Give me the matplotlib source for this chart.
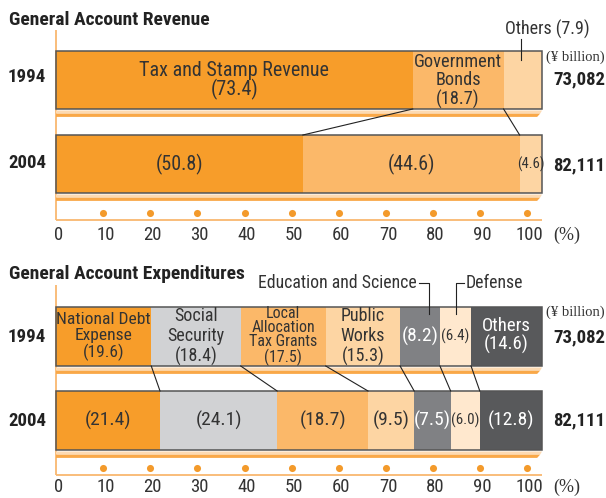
import matplotlib
matplotlib.use('Agg')
import matplotlib.pyplot as plt
from matplotlib.patches import Polygon, Rectangle
from matplotlib import font_manager
import numpy as np

# ---------------- data ----------------
years = ['1994', '2004']
rev_cats = ['Tax and Stamp Revenue', 'Government\nBonds', 'Others']
rev_1994 = [73.4, 18.7, 7.9]
rev_2004 = [50.8, 44.6, 4.6]
rev_totals = ['73,082', '82,111']

exp_cats = ['National Debt\nExpense', 'Social\nSecurity', 'Local\nAllocation\nTax Grants',
            'Public\nWorks', 'Education and Science', 'Defense', 'Others']
exp_1994 = [19.6, 18.4, 17.5, 15.3, 8.2, 6.4, 14.6]
exp_2004 = [21.4, 24.1, 18.7, 9.5, 7.5, 6.0, 12.8]
exp_totals = ['73,082', '82,111']

tick_values = [0, 10, 20, 30, 40, 50, 60, 70, 80, 90, 100]
unit_label = '(¥ billion)'

# ---------------- styles ----------------
rev_colors = ['#F79D2A', '#FBB869', '#FDD5A3']
exp_colors = ['#F79D2A', '#D1D2D4', '#FBB869', '#FDD5A3', '#808184', '#FFE8CE', '#58595B']
exp_text = ['#333333', '#333333', '#333333', '#333333', 'white', '#333333', 'white']
DARK = '#333333'
AXIS_C = '#F9B870'
DOT_C = '#F39A2B'
OUTLINE = '#555555'


def pick(names):
    avail = {f.name for f in font_manager.fontManager.ttflist}
    for n in names:
        if n in avail:
            return n
    return 'DejaVu Sans'


COND = pick(['Liberation Sans Narrow', 'DejaVu Sans Condensed', 'Roboto Condensed', 'Liberation Sans'])
SERIF = pick(['Liberation Serif', 'DejaVu Serif'])

W, H = 606, 498
fig = plt.figure(figsize=(W / 100, H / 100), dpi=100)
ax = fig.add_axes([0, 0, 1, 1])
PX0, PXW = 56.0, 4.86          # bar left pixel, pixels per percent
ax.set_xlim(-PX0 / PXW, (W - PX0) / PXW)
ax.set_ylim(H, 0)
ax.axis('off')


def px(p):
    return (p - PX0) / PXW


TICK_SCALE = 0.97   # tick spacing of the reference relative to bar width


def frame(y_axis_top, y_box_bottom, y_dots, y_labels):
    ax.plot([0, 0], [y_axis_top, y_box_bottom], color=AXIS_C, lw=1.3, solid_capstyle='butt', zorder=1)
    ax.plot([0, 100], [y_box_bottom, y_box_bottom], color=AXIS_C, lw=1.3, solid_capstyle='butt', zorder=1)
    pos = [v * TICK_SCALE for v in tick_values]
    ax.scatter(pos[1:], [y_dots] * (len(pos) - 1), s=26, color=DOT_C, zorder=3, linewidths=0)
    for p, v in zip(pos, tick_values):
        ax.text(p + 0.5, y_labels, str(v), ha='center', va='center', fontsize=13.5,
                family=COND, color=DARK)
    ax.text(px(567), y_labels, '(%)', ha='center', va='center', fontsize=13, family=SERIF, color=DARK)


def shadow(y_bottom):
    top = y_bottom + 1.5
    mid = top + 3.2
    bot = mid + 3.2
    ax.add_patch(Polygon([(0, top), (100, top), (99.6, mid), (0, mid)], closed=True,
                         facecolor='#FDDAB2', edgecolor='none', zorder=2))
    ax.add_patch(Polygon([(0, mid), (99.6, mid), (99.0, bot), (0, bot)], closed=True,
                         facecolor='#F9A848', edgecolor='none', zorder=2))


def stacked(yc, h, vals, colors):
    lefts = np.concatenate([[0], np.cumsum(vals)[:-1]])
    ax.barh([yc] * len(vals), vals, left=lefts, height=h, color=colors, edgecolor='none', zorder=2)
    ax.add_patch(Rectangle((0, yc - h / 2), sum(vals), h, fill=False, edgecolor=OUTLINE, lw=1.1, zorder=4))
    return lefts


def connectors(v_a, v_b, y_a, y_b):
    ca = np.cumsum(v_a)[:-1]
    cb = np.cumsum(v_b)[:-1]
    for a, b in zip(ca, cb):
        ax.plot([a, b], [y_a, y_b], color='#222222', lw=0.8, zorder=5)


# ================= Revenue =================
ax.text(px(9), 20, 'General Account Revenue', ha='left', va='center', fontsize=14,
        fontweight='bold', family=COND, color='#222222')
frame(30, 220, 213, 235)
R1, R2, RH = 80, 164, 58
l1 = stacked(R1, RH, rev_1994, rev_colors)
shadow(R1 + RH / 2)
l2 = stacked(R2, RH, rev_2004, rev_colors)
shadow(R2 + RH / 2)
connectors(rev_1994, rev_2004, R1 + RH / 2, R2 - RH / 2)

ax.text(l1[0] + rev_1994[0] / 2, R1 + 0.5, f'{rev_cats[0]}\n({rev_1994[0]:.1f})', ha='center', va='center',
        fontsize=14.5, family=COND, color=DARK, linespacing=0.92, zorder=6)
ax.text(l1[1] + rev_1994[1] / 2, R1 + 1, f'{rev_cats[1]}\n({rev_1994[1]:.1f})', ha='center', va='center',
        fontsize=13.2, family=COND, color=DARK, linespacing=1.05, zorder=6)
ax.text(px(547), 29, f'{rev_cats[2]} ({rev_1994[2]:.1f})', ha='center', va='center',
        fontsize=13, family=COND, color=DARK)
ax.plot([px(521), px(521)], [39, 60], color='#222222', lw=0.8, zorder=6)

for i, v in enumerate(rev_2004):
    fs = 14.5 if v > 10 else 10.5
    ax.text(l2[i] + v / 2, R2, f'({v:.1f})', ha='center', va='center', fontsize=fs,
            family=COND, color=DARK, zorder=6)

# ================= Expenditures =================
ax.text(px(9), 274, 'General Account Expenditures', ha='left', va='center', fontsize=14,
        fontweight='bold', family=COND, color='#222222')
frame(285, 475, 468, 487)
E1, E2, EH = 336.5, 420.5, 59
m1 = stacked(E1, EH, exp_1994, exp_colors)
shadow(E1 + EH / 2)
m2 = stacked(E2, EH, exp_2004, exp_colors)
shadow(E2 + EH / 2)
connectors(exp_1994, exp_2004, E1 + EH / 2, E2 - EH / 2)

for i, v in enumerate(exp_1994):
    cx = m1[i] + v / 2
    if i in (4, 5):
        txt = f'({v:.1f})'
        fs = 14 if i == 4 else 10.8
        ax.text(cx, E1, txt, ha='center', va='center', fontsize=fs, family=COND,
                color=exp_text[i], zorder=6)
    elif i == 2:
        ax.text(cx, E1 - 0.5, f'{exp_cats[i]}\n({v:.1f})', ha='center', va='center', fontsize=11.5,
                family=COND, color=exp_text[i], linespacing=0.92, zorder=6)
    elif i == 6:
        ax.text(cx, E1 - 1, f'{exp_cats[i]}\n({v:.1f})', ha='center', va='center', fontsize=13.5,
                family=COND, color=exp_text[i], linespacing=1.05, zorder=6)
    else:
        fs = 12.6 if i == 0 else 13
        ax.text(cx, E1, f'{exp_cats[i]}\n({v:.1f})', ha='center', va='center', fontsize=fs,
                family=COND, color=exp_text[i], linespacing=1.1, zorder=6)

for i, v in enumerate(exp_2004):
    fs = 10.8 if i == 5 else 14
    ax.text(m2[i] + v / 2, E2, f'({v:.1f})', ha='center', va='center', fontsize=fs,
            family=COND, color=exp_text[i], zorder=6)

# bracket callouts
ax.text(px(417), 283, exp_cats[4], ha='right', va='center', fontsize=12.8, family=COND, color=DARK)
ax.plot([px(419), px(429), px(429)], [283, 283, 314], color='#222222', lw=0.8, zorder=6)
ax.text(px(466), 283, exp_cats[5], ha='left', va='center', fontsize=12.8, family=COND, color=DARK)
ax.plot([px(464), px(455.5), px(455.5)], [283, 283, 314], color='#222222', lw=0.8, zorder=6)

# ================= Year labels and totals =================
for yc, yr in zip([R1 - 3, R2 - 1], years):
    ax.text(px(27), yc, yr, ha='center', va='center', fontsize=13.5, fontweight='bold',
            family=COND, color='#222222')
for yc, yr in zip([E1, E2], years):
    ax.text(px(27), yc, yr, ha='center', va='center', fontsize=13.5, fontweight='bold',
            family=COND, color='#222222')

for yu, yt1, yt2, tots in [(57, 79, 165, rev_totals), (312, 337, 420, exp_totals)]:
    ax.text(px(575), yu, unit_label, ha='center', va='center', fontsize=10.5, family=SERIF, color=DARK)
    ax.text(px(579), yt1, tots[0], ha='center', va='center', fontsize=13.5, fontweight='bold',
            family=COND, color='#222222')
    ax.text(px(579), yt2, tots[1], ha='center', va='center', fontsize=13.5, fontweight='bold',
            family=COND, color='#222222')

fig.savefig('out.png', dpi=100)
